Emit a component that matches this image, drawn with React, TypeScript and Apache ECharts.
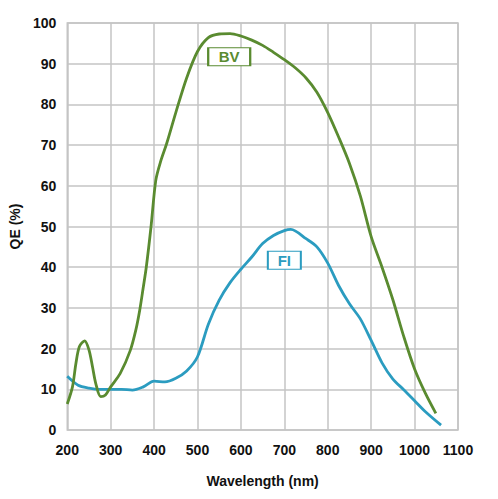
import React, { useEffect, useRef } from "react";
import * as echarts from "echarts";

const bvData: [number, number][] = [
  [200, 6.4], [212, 10.6], [220, 16.4], [228, 20.5], [240, 21.9], [250, 19.7], [258, 15.6],
  [266, 11.3], [277, 8.2], [288, 8.6], [300, 10.6], [322, 13.9], [345, 19.5], [358, 24.6],
  [367, 29.5], [375, 35], [382, 40], [393, 50], [404, 61.4], [416, 66.3], [429, 70.4],
  [450, 78], [475, 86.5], [500, 93], [525, 96.4], [550, 97.3], [575, 97.4], [600, 96.8],
  [625, 95.8], [650, 94.5], [675, 92.8], [700, 91], [725, 89], [750, 86.5], [775, 83],
  [800, 78], [825, 72], [850, 65.5], [875, 57.5], [900, 47.5], [925, 40], [950, 32],
  [975, 23], [1000, 15], [1025, 9], [1049, 4.1],
];

const fiData: [number, number][] = [
  [200, 13.2], [225, 11], [250, 10.3], [275, 10], [300, 10], [325, 10], [350, 9.8],
  [375, 10.6], [400, 12], [425, 11.8], [450, 12.7], [475, 14.5], [500, 18], [525, 26],
  [550, 31.9], [575, 36.2], [600, 39.5], [625, 42.5], [650, 45.8], [675, 47.8], [700, 49],
  [715, 49.3], [750, 47], [775, 45], [800, 41], [825, 35.5], [850, 31], [875, 27.3],
  [900, 22], [925, 16.5], [950, 12.5], [975, 9.9], [1000, 7.2], [1025, 4.5], [1061, 1.2],
];

const bvLabel = { name: "BV", coord: [573, 91.7] };
const fiLabel = { name: "FI", coord: [700, 41.7] };

const GREEN = "#5a8b30";
const BLUE = "#2b9cc0";
const FONT = 'Arial, "Liberation Sans", sans-serif';

export default function App() {
  const ref = useRef<HTMLDivElement>(null);
  useEffect(() => {
    if (!ref.current) return;
    const chart = echarts.init(ref.current, undefined, { renderer: "svg" });
    const label = (l: { name: string; coord: number[] }, color: string, w: number) => ({
      data: [{ name: l.name, coord: l.coord }],
      symbol: "rect",
      symbolSize: [w, 18],
      itemStyle: { color: "#fff", borderColor: color, borderWidth: 1.5 },
      label: {
        show: true,
        position: "inside",
        formatter: l.name,
        color: color,
        fontSize: 15,
        fontFamily: FONT,
        fontWeight: "bold",
      },
      silent: true,
    });
    chart.setOption({
      animation: false,
      backgroundColor: "#fff",
      grid: {
        left: 63,
        top: 23,
        right: 40,
        bottom: 69,
        show: true,
        borderColor: "#c4c4c4",
        borderWidth: 1.5,
      },
      xAxis: {
        type: "value",
        min: 200,
        max: 1100,
        interval: 100,
        name: "Wavelength (nm)",
        nameLocation: "middle",
        nameGap: 44,
        nameTextStyle: { fontSize: 14, fontWeight: "bold", color: "#111", fontFamily: FONT },
        axisLine: { show: false },
        axisTick: { show: false },
        axisLabel: {
          fontSize: 14,
          fontWeight: "bold",
          color: "#111",
          margin: 13,
          fontFamily: FONT,
          formatter: (v: number) => String(v),
        },
        splitLine: { show: true, lineStyle: { color: "#c4c4c4", width: 1.5 } },
      },
      yAxis: {
        type: "value",
        min: 0,
        max: 100,
        interval: 10,
        name: "QE (%)",
        nameLocation: "middle",
        nameGap: 43,
        nameTextStyle: { fontSize: 14, fontWeight: "bold", color: "#111", fontFamily: FONT },
        axisLine: { show: false },
        axisTick: { show: false },
        axisLabel: {
          fontSize: 14,
          fontWeight: "bold",
          color: "#111",
          margin: 11,
          fontFamily: FONT,
          formatter: (v: number) => String(v),
        },
        splitLine: { show: true, lineStyle: { color: "#c4c4c4", width: 1.5 } },
      },
      series: [
        {
          name: "BV",
          type: "line",
          data: bvData,
          smooth: 0.3,
          showSymbol: false,
          lineStyle: { color: GREEN, width: 2.8 },
          itemStyle: { color: GREEN },
          markPoint: label(bvLabel, GREEN, 42),
          z: 3,
        },
        {
          name: "FI",
          type: "line",
          data: fiData,
          smooth: 0.3,
          showSymbol: false,
          lineStyle: { color: BLUE, width: 2.8 },
          itemStyle: { color: BLUE },
          markPoint: label(fiLabel, BLUE, 33),
          z: 2,
        },
      ],
    });
    return () => chart.dispose();
  }, []);
  return (
    <div
      ref={ref}
      style={{ position: "fixed", left: 0, top: 0, width: 498, height: 499 }}
    />
  );
}
